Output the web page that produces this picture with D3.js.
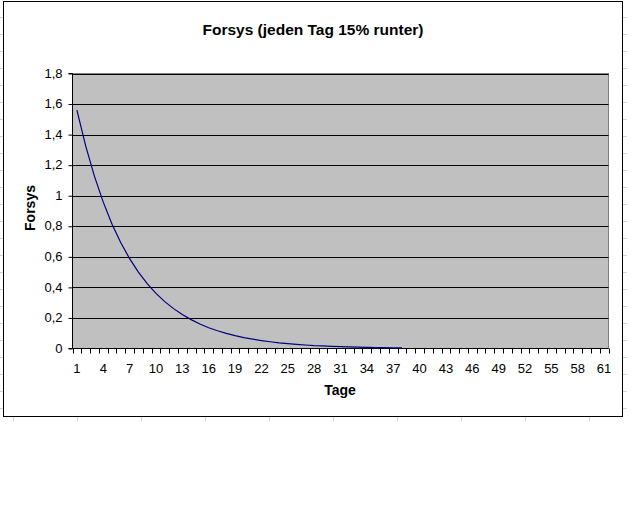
<!DOCTYPE html>
<html>
<head>
<meta charset="utf-8">
<script src="https://cdn.jsdelivr.net/npm/d3@7"></script>
<style>
  body { margin: 0; background: #fff; }
  text { font-family: Arial, "Liberation Sans", sans-serif; }
</style>
</head>
<body>
<script>
// Values
const days = d3.range(1, 62);
const labelDays = [1, 4, 7, 10, 13, 16, 19, 22, 25, 28, 31, 34, 37, 40, 43, 46, 49, 52, 55, 58, 61];
const forsysDays = [1, 2, 3, 4, 5, 6, 7, 8, 9, 10, 11, 12, 13, 14, 15, 16, 17, 18, 19, 20,
  21, 22, 23, 24, 25, 26, 27, 28, 29, 30, 31, 32, 33, 34, 35, 36, 37, 38];
const forsysValues = [1.56, 1.326, 1.127, 0.958, 0.814, 0.692, 0.588, 0.5, 0.425, 0.361,
  0.307, 0.261, 0.222, 0.189, 0.16, 0.136, 0.116, 0.099, 0.084, 0.071,
  0.061, 0.052, 0.044, 0.037, 0.032, 0.027, 0.023, 0.019, 0.017, 0.014,
  0.012, 0.01, 0.0087, 0.0074, 0.0063, 0.0053, 0.0045, 0.0038];
const yTicks = [0, 0.2, 0.4, 0.6, 0.8, 1, 1.2, 1.4, 1.6, 1.8];

const width = 640, height = 512;
const plot = {left: 72.5, right: 608.5, top: 73.5, bottom: 348.5};

const svg = d3.select('body').append('svg')
  .attr('width', width)
  .attr('height', height);

svg.append('rect')
  .attr('width', width)
  .attr('height', height)
  .attr('fill', '#fff');

// Faint spreadsheet cell lines peeking out round the chart
let sheet = svg.append('g').attr('stroke', '#d4d4d4').attr('stroke-width', 1);
for (let y of d3.range(17, 420, 17)) {
  sheet.append('line').attr('x1', 0).attr('x2', 3).attr('y1', y + 0.5).attr('y2', y + 0.5);
  sheet.append('line').attr('x1', 623).attr('x2', 627).attr('y1', y + 0.5).attr('y2', y + 0.5);
}
for (let x of d3.range(13, 640, 64)) {
  sheet.append('line').attr('x1', x + 0.5).attr('x2', x + 0.5).attr('y1', 417).attr('y2', 421);
}

// Chart frame
svg.append('rect')
  .attr('x', 3.5)
  .attr('y', 1.5)
  .attr('width', 619)
  .attr('height', 415)
  .attr('fill', '#fff')
  .attr('stroke', '#000')
  .attr('stroke-width', 1);

// Scales
const x = d3.scaleBand()
  .domain(days)
  .range([plot.left, plot.right]);
const y = d3.scaleLinear()
  .domain([0, 1.8])
  .range([plot.bottom, plot.top]);

const de = d3.formatLocale({decimal: ',', thousands: '.', grouping: [3], currency: ['', '€']});
const fmt = de.format('.1~f');

// Plot area
svg.append('rect')
  .attr('x', plot.left)
  .attr('y', plot.top)
  .attr('width', plot.right - plot.left)
  .attr('height', plot.bottom - plot.top)
  .attr('fill', '#c0c0c0')
  .attr('stroke', '#808080')
  .attr('stroke-width', 1);

// Gridlines
svg.append('g')
  .selectAll('line')
  .data(yTicks.filter(d => d > 0))
  .join('line')
  .attr('x1', plot.left)
  .attr('x2', plot.right)
  .attr('y1', d => Math.round(y(d)) + 0.5)
  .attr('y2', d => Math.round(y(d)) + 0.5)
  .attr('stroke', '#000')
  .attr('stroke-width', 1);

// Y axis
const yAxis = svg.append('g')
  .attr('transform', 'translate(' + plot.left + ',0)')
  .call(d3.axisLeft(y).tickValues(yTicks).tickFormat(fmt).tickSize(4).tickPadding(6)
    .offset(0));
yAxis.selectAll('.tick line').attr('transform', 'translate(0,0.5)');
yAxis.select('.domain').attr('stroke', '#000');
yAxis.selectAll('text')
  .attr('font-size', 13)
  .attr('font-family', 'Arial, "Liberation Sans", sans-serif')
  .attr('fill', '#000');

// X axis: ticks sit between categories, labels every third day
const xAxis = svg.append('g')
  .attr('transform', 'translate(0,' + plot.bottom + ')');
xAxis.append('line')
  .attr('x1', plot.left)
  .attr('x2', plot.right)
  .attr('stroke', '#000');
xAxis.selectAll('.tick')
  .data(days.concat([62]))
  .join('line')
  .attr('class', 'tick')
  .attr('x1', d => Math.round(d <= 61 ? x(d) : plot.right) + 0.5)
  .attr('x2', d => Math.round(d <= 61 ? x(d) : plot.right) + 0.5)
  .attr('y1', 0)
  .attr('y2', 5)
  .attr('stroke', '#000');
xAxis.selectAll('.label')
  .data(labelDays)
  .join('text')
  .attr('class', 'label')
  .attr('x', d => x(d) + x.bandwidth() / 2)
  .attr('y', 24)
  .attr('text-anchor', 'middle')
  .attr('font-size', 13)
  .text(d => d);

// The series
const line = d3.line()
  .x((d, i) => x(forsysDays[i]) + x.bandwidth() / 2)
  .y(d => y(d));
svg.append('path')
  .datum(forsysValues)
  .attr('d', line)
  .attr('fill', 'none')
  .attr('stroke', '#000080')
  .attr('stroke-width', 1.2);

// Titles
svg.append('text')
  .attr('x', 313)
  .attr('y', 35)
  .attr('text-anchor', 'middle')
  .attr('font-size', 15.5)
  .attr('font-weight', 'bold')
  .text('Forsys (jeden Tag 15% runter)');

svg.append('text')
  .attr('transform', 'translate(35,208) rotate(-90)')
  .attr('text-anchor', 'middle')
  .attr('font-size', 14)
  .attr('font-weight', 'bold')
  .text('Forsys');

svg.append('text')
  .attr('x', 340)
  .attr('y', 395)
  .attr('text-anchor', 'middle')
  .attr('font-size', 14)
  .attr('font-weight', 'bold')
  .text('Tage');
</script>
</body>
</html>
